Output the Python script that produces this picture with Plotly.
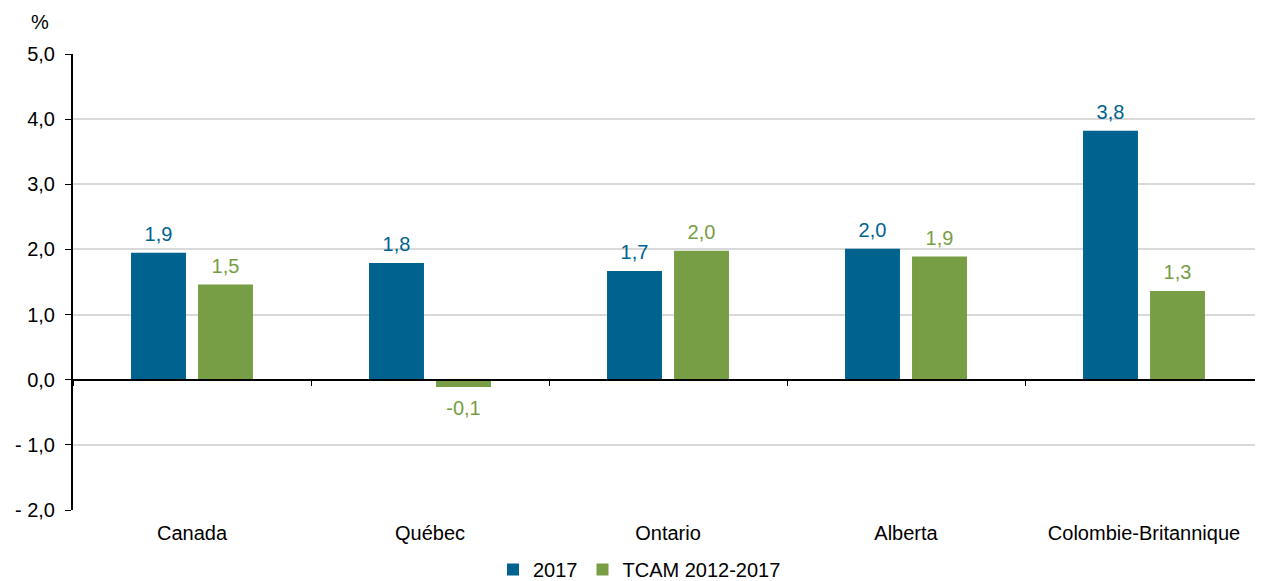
import plotly.graph_objects as go

categories = ["Canada", "Québec", "Ontario", "Alberta", "Colombie-Britannique"]
values_2017 = [1.95, 1.79, 1.67, 2.01, 3.82]
labels_2017 = ["1,9", "1,8", "1,7", "2,0", "3,8"]
values_tcam = [1.46, -0.11, 1.98, 1.89, 1.36]
labels_tcam = ["1,5", "-0,1", "2,0", "1,9", "1,3"]
series_names = ["2017", "TCAM 2012-2017"]
ytick_vals = [-2, -1, 0, 1, 2, 3, 4, 5]
ytick_text = ["- 2,0", "- 1,0", "0,0", "1,0", "2,0", "3,0", "4,0", "5,0"]

blue = "#00628F"
green = "#779D45"
font = "Liberation Sans, Arial, sans-serif"
fs = 20

fig = go.Figure()
for name, vals, color, grp in [(series_names[0], values_2017, blue, "a"),
                               (series_names[1], values_tcam, green, "b")]:
    fig.add_trace(go.Bar(x=categories, y=vals, name=name, offsetgroup=grp,
                         marker=dict(color=color, line=dict(width=0))))
for vals, labels, color, grp in [(values_2017, labels_2017, blue, "a"),
                                 (values_tcam, labels_tcam, green, "b")]:
    fig.add_trace(go.Scatter(
        x=categories, y=vals, text=labels, mode="markers+text",
        offsetgroup=grp,
        textposition=["top center" if v >= 0 else "bottom center" for v in vals],
        textfont=dict(color=color, size=fs, family=font),
        marker=dict(size=[9 if v >= 0 else 19 for v in vals], opacity=0),
        showlegend=False, hoverinfo="skip", cliponaxis=False))
# invisible trace for the zero-line axis with boundary ticks
fig.add_trace(go.Scatter(x=categories, y=[0]*len(categories), xaxis="x2",
                         mode="markers", marker=dict(opacity=0),
                         showlegend=False, hoverinfo="skip"))

fig.update_layout(
    width=1263, height=581,
    margin=dict(l=65, r=8, t=46, b=79, autoexpand=False),
    paper_bgcolor="white", plot_bgcolor="white",
    font=dict(family=font, size=fs, color="#000000"),
    barmode="group", bargap=0.437, bargroupgap=0.18,
    scattermode="group", scattergap=0.437,
    xaxis=dict(type="category", showline=False, ticks="", showgrid=False,
               tickfont=dict(size=fs), zeroline=False, automargin=False,
               ticklabelstandoff=9),
    xaxis2=dict(type="category", overlaying="x", matches="x", anchor="free",
                position=2/7, showline=True, linecolor="#000000", linewidth=2,
                ticks="outside", tickson="boundaries", ticklen=5,
                tickcolor="#000000", tickwidth=1, showticklabels=False,
                showgrid=False, zeroline=False, automargin=False),
    yaxis=dict(range=[-2, 5], tickvals=ytick_vals, ticktext=ytick_text,
               showline=True, linecolor="#000000", linewidth=2,
               ticks="outside", ticklen=6, tickcolor="#000000",
               showgrid=True, gridcolor="#D9D9D9", gridwidth=1.5,
               zeroline=False, tickfont=dict(size=fs), automargin=False,
               ticklabelstandoff=6),
    legend=dict(orientation="h", xref="container", x=0.5, xanchor="center",
                yref="container", y=-0.002, yanchor="bottom",
                font=dict(size=fs), traceorder="normal", itemwidth=30,
                tracegroupgap=0),
    showlegend=True,
)
fig.add_annotation(text="%", xref="paper", yref="paper", x=(32 - 65) / 1190,
                   y=1 + (46 - 14) / 456, xanchor="center", yanchor="middle",
                   showarrow=False, font=dict(size=fs))

fig.write_html("out.html")
